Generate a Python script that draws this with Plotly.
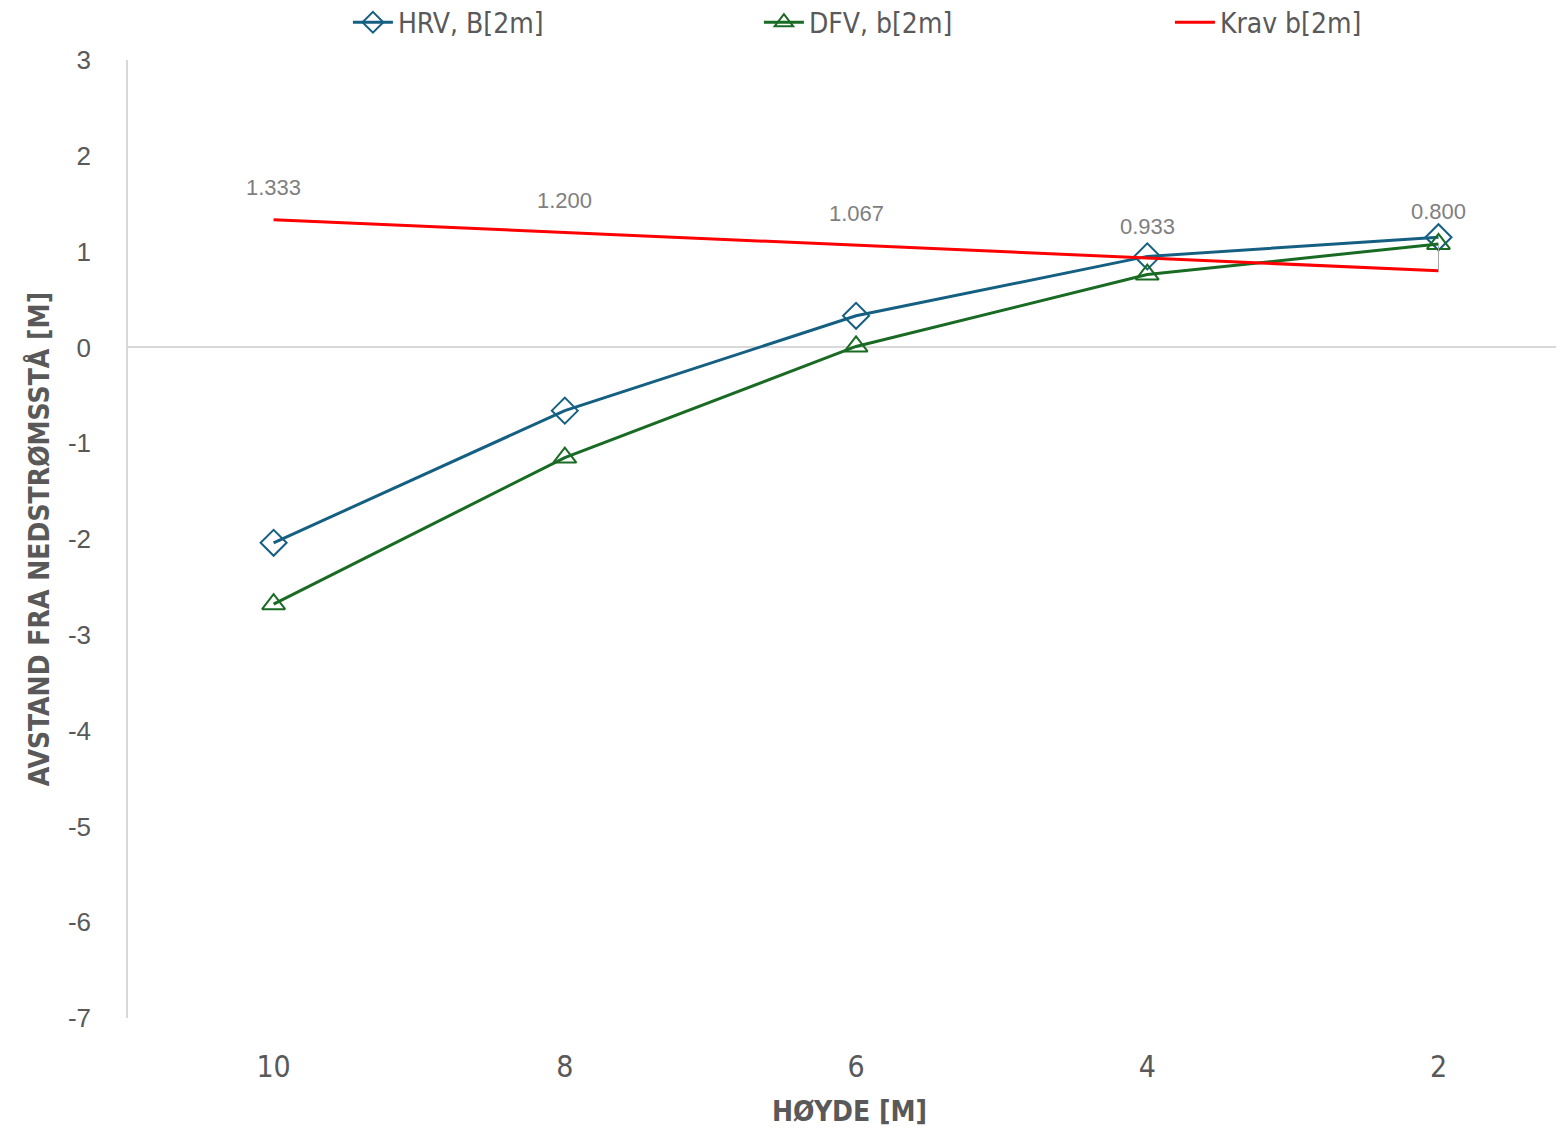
import plotly.graph_objects as go

heights = ["10", "8", "6", "4", "2"]
hrv = [-2.04, -0.66, 0.33, 0.95, 1.15]
dfv = [-2.68, -1.15, 0.01, 0.76, 1.08]
krav = [1.333, 1.200, 1.067, 0.933, 0.800]
y_ticks = [3, 2, 1, 0, -1, -2, -3, -4, -5, -6, -7]

xpos = list(range(len(heights)))
narrow = "Liberation Sans Narrow, DejaVu Sans Condensed, Arial Narrow, sans-serif"
gray = "#595959"

fig = go.Figure()
fig.add_trace(go.Scatter(
    x=xpos, y=hrv, name="HRV, B[2m]", mode="lines+markers",
    line=dict(color="#156082", width=3),
    marker=dict(symbol="diamond-open", size=20, color="#156082", line=dict(width=2)),
))
fig.add_trace(go.Scatter(
    x=xpos, y=dfv, name="DFV, b[2m]", mode="lines+markers",
    line=dict(color="#196B24", width=3),
    marker=dict(symbol="triangle-up-open", size=20, color="#196B24", line=dict(width=2)),
))
fig.add_trace(go.Scatter(
    x=xpos, y=krav, name="Krav b[2m]", mode="lines",
    line=dict(color="#FF0000", width=3),
))

for i, v in enumerate(krav):
    last = i == len(krav) - 1
    fig.add_annotation(
        x=xpos[i], y=v, text=f"{v:.3f}",
        showarrow=last, arrowhead=0, arrowwidth=1, arrowcolor="#a6a6a6",
        ax=0, ay=-59 if last else 0, startstandoff=20,
        yshift=0 if last else 32,
        font=dict(family="Liberation Sans, Arial, sans-serif", size=22, color="#7f7f7f"),
    )

fig.update_layout(
    width=1564, height=1141,
    paper_bgcolor="white", plot_bgcolor="white",
    margin=dict(l=120, r=1, t=52, b=131, autoexpand=False),
    showlegend=True,
    legend=dict(
        orientation="h", x=0.1524, y=1.013, xanchor="left", yanchor="bottom",
        entrywidth=356, entrywidthmode="pixels",
        font=dict(family=narrow, size=28, color=gray),
        itemwidth=40, tracegroupgap=0,
    ),
    xaxis=dict(
        range=[-0.5, 4.455], tickvals=xpos, ticktext=heights,
        showgrid=False, zeroline=False, showline=False, ticks="",
        tickfont=dict(family=narrow, size=30, color=gray),
        ticklabelstandoff=28,
        title=dict(text="<b>HØYDE [M]</b>", font=dict(family=narrow, size=28, color=gray), standoff=18),
    ),
    yaxis=dict(
        range=[-7, 3], tickvals=y_ticks, ticktext=[str(t) for t in y_ticks], showgrid=False,
        zeroline=True, zerolinecolor="#d9d9d9", zerolinewidth=1.5,
        showline=True, linecolor="#d9d9d9", linewidth=1.5, ticks="",
        tickfont=dict(family="Liberation Sans, Arial, sans-serif", size=26, color=gray),
        ticklabelstandoff=30,
        title=dict(text="<b>AVSTAND FRA NEDSTRØMSSTÅ [M]</b>", font=dict(family=narrow, size=28, color=gray), standoff=10),
    ),
)

fig.write_html("out.html")
